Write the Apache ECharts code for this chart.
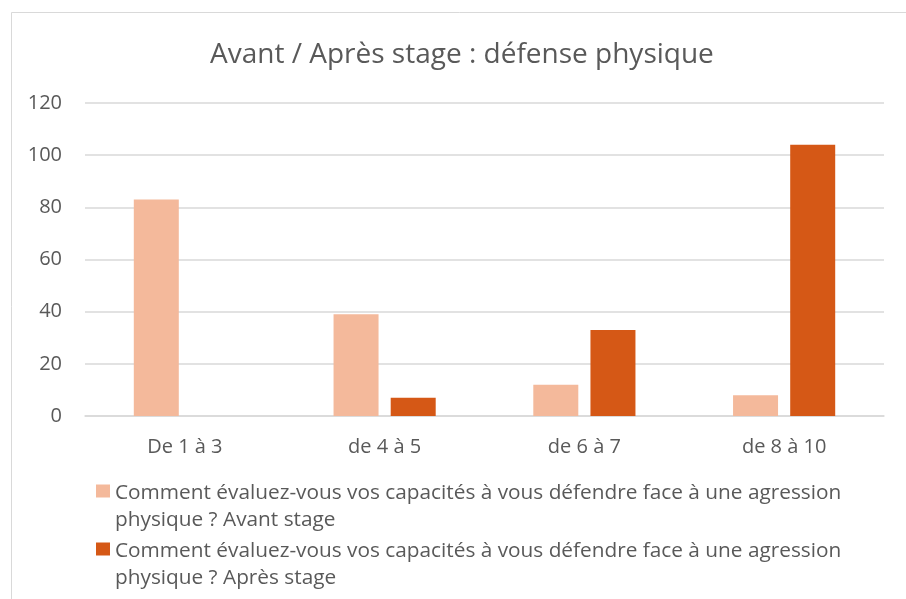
<!DOCTYPE html>
<html>
<head>
<meta charset="utf-8">
<script src="https://cdn.jsdelivr.net/npm/echarts@6/dist/echarts.min.js"></script>
<style>
  html, body { margin: 0; padding: 0; background: #fff; }
  #chart { width: 906px; height: 599px; }
</style>
</head>
<body>
<div id="chart"></div>
<script>
const categories = ['De 1 à 3', 'de 4 à 5', 'de 6 à 7', 'de 8 à 10']
const avantStage = [83, 39, 12, 8]
const apresStage = [0, 7, 33, 104]
const seriesNames = [
  'Comment évaluez-vous vos capacités à vous défendre face à une agression physique ? Avant stage',
  'Comment évaluez-vous vos capacités à vous défendre face à une agression physique ? Après stage'
]

const font = 'Open Sans'
const grey = '#595959'

const echart = echarts.init(document.getElementById('chart'), null, { renderer: 'canvas' })

// one legend block per series, square on the first text line
const legendBlock = (name, top) => ({
  data: [name],
  left: 96,
  top: top,
  padding: 0,
  itemWidth: 14,
  itemHeight: 54,
  icon: 'path://M0,5h14v13h-14zM0,0h0M0,54h0',
  formatter: (n) => n.replace(' physique', '\nphysique'),
  textStyle: {
    fontFamily: font,
    fontSize: 20.8,
    lineHeight: 27.5,
    color: grey,
    padding: [0, 0, 0, 0]
  }
})

echart.setOption({
  animation: false,
  backgroundColor: '#fff',
  color: ['#F4B99B', '#D55816'],
  graphic: [
    {
      type: 'rect',
      left: 9,
      top: 10,
      shape: { width: 1000, height: 1000 },
      style: { fill: 'none', stroke: '#d9d9d9', lineWidth: 1 },
      silent: true
    }
  ],
  title: {
    text: 'Avant / Après stage : défense physique',
    left: 205,
    top: 36,
    textStyle: {
      fontFamily: font,
      fontSize: 28,
      fontWeight: 'normal',
      color: grey
    }
  },
  legend: [
    legendBlock(seriesNames[0], 479),
    legendBlock(seriesNames[1], 537)
  ],
  grid: {
    left: 85,
    right: 22,
    top: 103,
    bottom: 183
  },
  xAxis: {
    type: 'category',
    data: categories,
    axisLine: { lineStyle: { color: '#d9d9d9', width: 1.5 } },
    axisTick: { show: false },
    axisLabel: {
      margin: 21,
      fontFamily: font,
      fontSize: 20,
      color: grey
    }
  },
  yAxis: {
    type: 'value',
    min: 0,
    max: 120,
    interval: 20,
    splitLine: { lineStyle: { color: '#d9d9d9', width: 1.5 } },
    axisLabel: {
      margin: 23,
      fontFamily: font,
      fontSize: 20,
      color: grey
    }
  },
  series: [
    {
      name: seriesNames[0],
      type: 'bar',
      barWidth: 45,
      barGap: '27%',
      data: avantStage
    },
    {
      name: seriesNames[1],
      type: 'bar',
      barWidth: 45,
      barGap: '27%',
      data: apresStage
    }
  ]
})
</script>
</body>
</html>
